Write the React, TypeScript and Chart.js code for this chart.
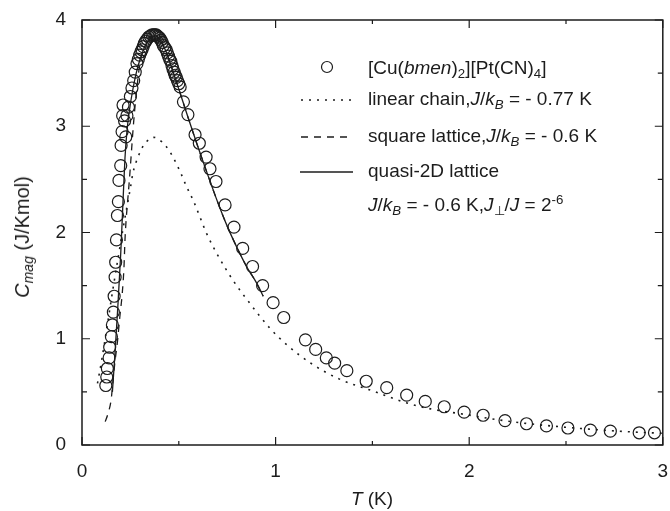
import React, { useEffect, useRef } from "react";
import { Chart, registerables } from "chart.js";

Chart.register(...registerables);

// ---- Data ----
// Experimental points: [Cu(bmen)2][Pt(CN)4]
const expT = [
  0.123, 0.128, 0.131, 0.140, 0.143, 0.152, 0.157, 0.162, 0.166, 0.171,
  0.174, 0.178, 0.183, 0.188, 0.191, 0.200, 0.202, 0.207, 0.210, 0.212,
  0.220, 0.226, 0.232, 0.240, 0.250, 0.258, 0.267, 0.275, 0.284, 0.291,
  0.298, 0.304, 0.310, 0.316, 0.322, 0.329, 0.336, 0.345, 0.353, 0.362,
  0.370, 0.377, 0.383, 0.389, 0.395, 0.402, 0.408, 0.414, 0.420, 0.428,
  0.435, 0.441, 0.447, 0.453, 0.459, 0.465, 0.470, 0.476, 0.481, 0.487,
  0.493, 0.500, 0.507, 0.524, 0.547, 0.584, 0.606, 0.641, 0.661, 0.692,
  0.739, 0.785, 0.830, 0.881, 0.933, 0.987, 1.042, 1.154, 1.207, 1.262,
  1.305, 1.368, 1.468, 1.574, 1.677, 1.773, 1.871, 1.974, 2.072, 2.185,
  2.296, 2.399, 2.510, 2.626, 2.729, 2.878, 2.957,
];
const expC = [
  0.56, 0.64, 0.72, 0.82, 0.92, 1.02, 1.13, 1.25, 1.40, 1.58,
  1.72, 1.93, 2.16, 2.29, 2.49, 2.63, 2.82, 2.95, 3.10, 3.20,
  3.05, 2.90, 3.10, 3.18, 3.28, 3.36, 3.43, 3.51, 3.59, 3.63,
  3.67, 3.70, 3.72, 3.75, 3.78, 3.80, 3.82, 3.84, 3.85, 3.86,
  3.86, 3.86, 3.86, 3.85, 3.84, 3.83, 3.81, 3.79, 3.76, 3.74,
  3.72, 3.69, 3.66, 3.63, 3.61, 3.57, 3.54, 3.51, 3.48, 3.46,
  3.43, 3.40, 3.37, 3.23, 3.11, 2.92, 2.84, 2.71, 2.60, 2.48,
  2.26, 2.05, 1.85, 1.68, 1.50, 1.34, 1.20, 0.99, 0.90, 0.82,
  0.77, 0.70, 0.60, 0.54, 0.47, 0.41, 0.36, 0.31, 0.28, 0.23,
  0.20, 0.18, 0.16, 0.14, 0.13, 0.115, 0.115,
];

// Linear chain, J/kB = -0.77 K (dotted)
const chainT = [
  0.08, 0.10, 0.13, 0.16, 0.19, 0.22, 0.25, 0.263, 0.287, 0.318,
  0.349, 0.37, 0.39, 0.435, 0.47, 0.51, 0.538, 0.575, 0.644, 0.70,
  0.78, 0.86, 0.97, 1.06, 1.19, 1.33, 1.50, 1.67, 1.80, 1.97,
  2.14, 2.31, 2.48, 2.65, 2.82, 3.0,
];
const chainC = [
  0.58, 0.78, 1.12, 1.47, 1.80, 2.12, 2.42, 2.56, 2.70, 2.82,
  2.88, 2.895, 2.885, 2.81, 2.71, 2.56, 2.44, 2.30, 1.99, 1.79,
  1.55, 1.35, 1.10, 0.94, 0.76, 0.62, 0.51, 0.40, 0.34, 0.29,
  0.24, 0.20, 0.17, 0.145, 0.125, 0.11,
];

// Square lattice, J/kB = -0.6 K (dashed)
const squareT = [
  0.12, 0.135, 0.15, 0.16, 0.17, 0.183, 0.195, 0.208, 0.217, 0.222,
  0.228, 0.236, 0.245, 0.255, 0.265, 0.28, 0.30, 0.33, 0.36, 0.38,
  0.40, 0.43, 0.46, 0.50, 0.55, 0.60, 0.65, 0.70, 0.75, 0.80,
  0.85, 0.90, 0.936,
];
const squareC = [
  0.22, 0.30, 0.42, 0.60, 0.78, 0.97, 1.20, 1.43, 1.68, 1.93,
  2.12, 2.30, 2.50, 2.75, 3.00, 3.30, 3.60, 3.77, 3.84, 3.85,
  3.82, 3.72, 3.57, 3.35, 3.07, 2.80, 2.54, 2.29, 2.06, 1.86,
  1.68, 1.53, 1.40,
];

// Quasi-2D lattice, J/kB = -0.6 K, Jperp/J = 2^-6 (solid)
const quasiT = [
  0.157, 0.17, 0.185, 0.20, 0.212, 0.222, 0.232, 0.245, 0.26, 0.28,
  0.30, 0.33, 0.36, 0.38, 0.40, 0.43, 0.46, 0.50, 0.55, 0.60,
  0.65, 0.70, 0.75, 0.80, 0.85, 0.90, 0.936,
];
const quasiC = [
  0.50, 0.85, 1.30, 1.80, 2.30, 2.70, 2.95, 3.15, 3.32, 3.50,
  3.63, 3.77, 3.84, 3.85, 3.82, 3.72, 3.57, 3.35, 3.07, 2.80,
  2.54, 2.29, 2.06, 1.86, 1.68, 1.53, 1.40,
];

// Axis ticks
const xMajorTicks = [0, 1, 2, 3];
const xMinorTicks = [0.5, 1.5, 2.5];
const yMajorTicks = [0, 1, 2, 3, 4];
const yMinorTicks = [0.5, 1.5, 2.5, 3.5];

const INK = "#1c1c1c";
const FONT = "'Liberation Sans', Arial, Helvetica, sans-serif";
const FS = 19;

// legend rows (baselines in px) — layout only
const LEG_X_TEXT = 368;
const LEG_BASE = [74, 105, 142, 177, 211];

const toXY = (xs: number[], ys: number[]) => xs.map((x, i) => ({ x, y: ys[i] }));

const framePlugin = {
  id: "frameTicks",
  afterDatasetsDraw(chart: any) {
    const { ctx, chartArea, scales } = chart;
    const { left, right, top, bottom } = chartArea;
    const xs = scales.x;
    const ys = scales.y;
    ctx.save();
    ctx.strokeStyle = INK;
    ctx.lineWidth = 1.5;
    ctx.strokeRect(left, top, right - left, bottom - top);
    ctx.lineWidth = 1.2;
    ctx.beginPath();
    const xt = (vals: number[], len: number) =>
      vals.forEach((v) => {
        const p = xs.getPixelForValue(v);
        ctx.moveTo(p, bottom);
        ctx.lineTo(p, bottom - len);
        ctx.moveTo(p, top);
        ctx.lineTo(p, top + len);
      });
    const yt = (vals: number[], len: number) =>
      vals.forEach((v) => {
        const p = ys.getPixelForValue(v);
        ctx.moveTo(left, p);
        ctx.lineTo(left + len, p);
        ctx.moveTo(right, p);
        ctx.lineTo(right - len, p);
      });
    xt(xMajorTicks, 8);
    xt(xMinorTicks, 4);
    yt(yMajorTicks, 8);
    yt(yMinorTicks, 5);
    ctx.stroke();

    // legend symbols
    const x0 = 301;
    const x1 = 353;
    ctx.lineWidth = 1.2;
    ctx.beginPath();
    ctx.arc(327, LEG_BASE[0] - 7, 5.5, 0, Math.PI * 2);
    ctx.stroke();
    ctx.lineWidth = 1.6;
    ctx.setLineDash([2, 6]);
    ctx.beginPath();
    ctx.moveTo(x0, LEG_BASE[1] - 5);
    ctx.lineTo(x1, LEG_BASE[1] - 5);
    ctx.stroke();
    ctx.lineWidth = 1.3;
    ctx.setLineDash([7, 6]);
    ctx.beginPath();
    ctx.moveTo(x0, LEG_BASE[2] - 5);
    ctx.lineTo(x1, LEG_BASE[2] - 5);
    ctx.stroke();
    ctx.setLineDash([]);
    ctx.beginPath();
    ctx.moveTo(x0 - 1, LEG_BASE[3] - 5);
    ctx.lineTo(x1, LEG_BASE[3] - 5);
    ctx.stroke();
    ctx.restore();
  },
};

const subStyle: React.CSSProperties = { fontSize: "0.7em", verticalAlign: "-0.3em", lineHeight: 0 };
const supStyle: React.CSSProperties = { fontSize: "0.7em", verticalAlign: "0.55em", lineHeight: 0 };

function LegendText({ base, children }: { base: number; children: React.ReactNode }) {
  return (
    <div
      style={{
        position: "absolute",
        left: LEG_X_TEXT,
        top: base - 0.8465 * FS,
        fontSize: FS,
        lineHeight: `${FS}px`,
        fontFamily: FONT,
        color: INK,
        whiteSpace: "nowrap",
      }}
    >
      {children}
    </div>
  );
}

export default function App() {
  const canvasRef = useRef<HTMLCanvasElement | null>(null);

  useEffect(() => {
    if (!canvasRef.current) return;
    const lineCommon = {
      showLine: true,
      pointRadius: 0,
      pointHoverRadius: 0,
      borderColor: INK,
      backgroundColor: "transparent",
      fill: false,
      cubicInterpolationMode: "monotone" as const,
      borderCapStyle: "butt" as const,
    };
    const chart = new Chart(canvasRef.current, {
      type: "scatter",
      data: {
        datasets: [
          {
            label: "linear chain",
            data: toXY(chainT, chainC),
            ...lineCommon,
            borderWidth: 1.6,
            borderDash: [2, 6],
          },
          {
            label: "square lattice",
            data: toXY(squareT, squareC),
            ...lineCommon,
            borderWidth: 1.3,
            borderDash: [7, 6],
          },
          {
            label: "quasi-2D lattice",
            data: toXY(quasiT, quasiC),
            ...lineCommon,
            borderWidth: 1.3,
          },
          {
            label: "[Cu(bmen)2][Pt(CN)4]",
            data: toXY(expT, expC),
            showLine: false,
            pointStyle: "circle",
            pointRadius: 6,
            pointHoverRadius: 6,
            pointBorderWidth: 1.2,
            borderColor: INK,
            pointBorderColor: INK,
            backgroundColor: "transparent",
            pointBackgroundColor: "transparent",
            clip: false,
          } as any,
        ],
      },
      options: {
        animation: false,
        responsive: true,
        maintainAspectRatio: false,
        events: [],
        layout: { padding: { top: 20, right: 7, left: 0, bottom: 0 } },
        plugins: {
          legend: { display: false },
          tooltip: { enabled: false },
          title: { display: false },
        },
        scales: {
          x: {
            type: "linear",
            min: 0,
            max: 3,
            grid: { display: false, drawTicks: false },
            border: { display: false },
            ticks: {
              stepSize: 1,
              padding: 15,
              color: INK,
              font: { family: FONT, size: FS },
              maxRotation: 0,
            },
            afterFit: (s: any) => {
              s.height = 66;
              s.paddingLeft = 0;
              s.paddingRight = 0;
            },
          },
          y: {
            type: "linear",
            min: 0,
            max: 4,
            grid: { display: false, drawTicks: false },
            border: { display: false },
            ticks: {
              stepSize: 1,
              padding: 16,
              color: INK,
              font: { family: FONT, size: FS },
            },
            afterFit: (s: any) => {
              s.width = 82;
              s.paddingTop = 0;
              s.paddingBottom = 0;
            },
          },
        },
      },
      plugins: [framePlugin],
    });
    return () => chart.destroy();
  }, []);

  return (
    <div style={{ position: "absolute", left: 0, top: 0, width: 670, height: 511, background: "#fff" }}>
      <canvas ref={canvasRef} width={670} height={511} />
      <LegendText base={LEG_BASE[0]}>
        [Cu(<i>bmen</i>)<span style={subStyle}>2</span>][Pt(CN)<span style={subStyle}>4</span>]
      </LegendText>
      <LegendText base={LEG_BASE[1]}>
        linear chain,<i>J</i>/<i>k</i><i style={subStyle}>B</i> = - 0.77 K
      </LegendText>
      <LegendText base={LEG_BASE[2]}>
        square lattice,<i>J</i>/<i>k</i><i style={subStyle}>B</i> = - 0.6 K
      </LegendText>
      <LegendText base={LEG_BASE[3]}>quasi-2D lattice</LegendText>
      <LegendText base={LEG_BASE[4]}>
        <i>J</i>/<i>k</i><i style={subStyle}>B</i> = - 0.6 K,<i>J</i><span style={subStyle}>⊥</span>/<i>J</i> = 2<span style={supStyle}>-6</span>
      </LegendText>
      {/* x-axis title */}
      <div
        style={{
          position: "absolute",
          left: 372,
          top: 505 - 0.8465 * FS,
          transform: "translateX(-50%)",
          fontSize: FS,
          lineHeight: `${FS}px`,
          fontFamily: FONT,
          color: INK,
          whiteSpace: "nowrap",
        }}
      >
        <i>T</i> (K)
      </div>
      {/* y-axis title */}
      <div
        style={{
          position: "absolute",
          left: 22,
          top: 237,
          transform: "translate(-50%, -50%) rotate(-90deg)",
          fontSize: 20,
          lineHeight: "20px",
          fontFamily: FONT,
          color: INK,
          whiteSpace: "nowrap",
        }}
      >
        <i>C</i><i style={subStyle}>mag</i> (J/Kmol)
      </div>
    </div>
  );
}
